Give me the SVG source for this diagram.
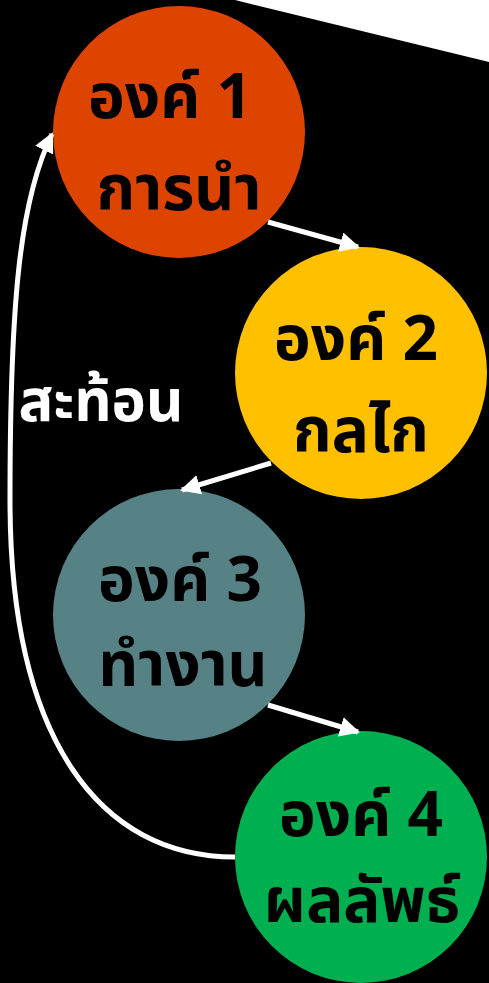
<svg xmlns="http://www.w3.org/2000/svg" width="489" height="983" viewBox="0 0 489 983">
<style>
.t{font-family:"Noto Sans Thai","Noto Sans","DejaVu Sans",sans-serif;font-weight:bold;font-size:62px;fill:#000;text-anchor:middle}
.c{stroke:#fff;stroke-width:5;fill:none}
</style>
<defs>
<marker id="ah" viewBox="0 0 10 10" refX="9" refY="5" markerWidth="4" markerHeight="4" orient="auto" markerUnits="strokeWidth">
<path d="M0,0 L10,5 L0,10 Z" fill="#fff"/>
</marker>
</defs>
<rect width="489" height="983" fill="#000"/>
<polygon points="235,0 489,0 489,62" fill="#fff"/>
<g id="n1"><circle cx="179" cy="132" r="126" fill="#DD4400"/><text class="t" x="170" y="118">องค์ 1</text><text class="t" x="179" y="210">การนำ</text></g>
<g id="n2"><circle cx="361" cy="373" r="126" fill="#FFC000"/><text class="t" x="356" y="360">องค์ 2</text><text class="t" x="361" y="452">กลไก</text></g>
<g id="n3"><circle cx="179" cy="615" r="126" fill="#568285"/><text class="t" x="180" y="601">องค์ 3</text><text class="t" x="183" y="686">ทำงาน</text></g>
<g id="n4"><circle cx="361" cy="857" r="126" fill="#00B050"/><text class="t" x="361" y="836">องค์ 4</text><text class="t" x="362" y="922">ผลลัพธ์</text></g>
<g id="connectors">
<line class="c" x1="268" y1="222" x2="358" y2="247" marker-end="url(#ah)"/>
<line class="c" x1="271" y1="463" x2="182" y2="490" marker-end="url(#ah)"/>
<line class="c" x1="268" y1="705" x2="358" y2="732" marker-end="url(#ah)"/>
<path class="c" d="M235,857 C100,857 10,740 10,500 C10,300 20,200 52,134" marker-end="url(#ah)"/>
<text x="101" y="421" style="font-family:'Noto Sans Thai','Noto Sans','DejaVu Sans',sans-serif;font-weight:bold;font-size:58px;fill:#fff;text-anchor:middle">สะท้อน</text>
</g>
</svg>
